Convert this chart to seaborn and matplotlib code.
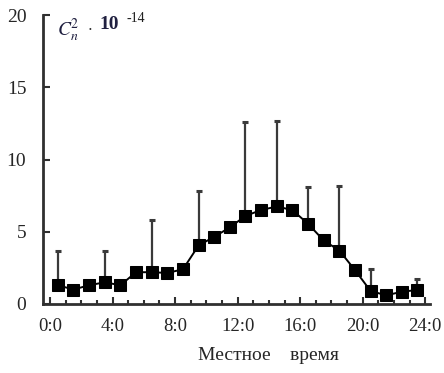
import numpy as np
import pandas as pd
import matplotlib
matplotlib.use("Agg")
import matplotlib.pyplot as plt
import seaborn as sns
from matplotlib.ticker import MultipleLocator, FixedLocator

sns.set_theme(style="white")
plt.rcParams['font.family'] = ['Liberation Serif', 'DejaVu Serif']
plt.rcParams['mathtext.fontset'] = 'stix'

hours = [0.5, 1.5, 2.5, 3.5, 4.5, 5.5, 6.5, 7.5, 8.5, 9.5, 10.5, 11.5,
         12.5, 13.5, 14.5, 15.5, 16.5, 17.5, 18.5, 19.5, 20.5, 21.5, 22.5, 23.5]
cn2 = [1.3, 1.0, 1.3, 1.5, 1.3, 2.2, 2.2, 2.15, 2.4, 4.05, 4.65, 5.3,
       6.1, 6.5, 6.75, 6.5, 5.55, 4.4, 3.7, 2.35, 0.9, 0.6, 0.85, 0.97]
err_hours = [0.5, 3.5, 6.5, 9.5, 12.5, 14.5, 16.5, 18.5, 20.5, 23.5]
err_base = [1.3, 1.5, 2.2, 4.05, 6.1, 6.75, 5.55, 3.7, 0.9, 0.97]
err_top = [3.65, 3.7, 5.8, 7.85, 12.6, 12.65, 8.1, 8.2, 2.4, 1.7]
xtick_vals = [0, 4, 8, 12, 16, 20, 24]
xtick_labels = ["0:0", "4:0", "8:0", "12:0", "16:0", "20:0", "24:0"]
ytick_vals = [0, 5, 10, 15, 20]

df = pd.DataFrame({"hour": hours, "cn2": cn2})

fig = plt.figure(figsize=(4.44, 3.73), dpi=100)
ax = fig.add_axes([43/444, 69/373, (430-43)/444, (304-15)/373])

upper = np.array(err_top) - np.array(err_base)
ax.errorbar(err_hours, err_base, yerr=[np.zeros_like(upper), upper],
            fmt='none', ecolor='#3a3a3a', elinewidth=1.6, capsize=2.5,
            capthick=2.2, zorder=2)

sns.lineplot(data=df, x="hour", y="cn2", ax=ax, color='black', lw=1.4,
             marker='s', markersize=8.5, markerfacecolor='black',
             markeredgecolor='black', zorder=3)

ax.set_xlim(-0.45, 24.3)
ax.set_ylim(0, 20)
ax.xaxis.set_major_locator(FixedLocator(xtick_vals))
ax.xaxis.set_minor_locator(MultipleLocator(1))
ax.set_xticks(xtick_vals)
ax.set_xticklabels(xtick_labels)
ax.set_yticks(ytick_vals)
ax.set_yticklabels([str(v) for v in ytick_vals])

for s in ['top', 'right']:
    ax.spines[s].set_visible(False)
for s in ['left', 'bottom']:
    ax.spines[s].set_linewidth(2.0)
    ax.spines[s].set_color('#303030')

ax.tick_params(axis='x', which='major', direction='in', length=5, width=1.5,
               color='#303030', labelsize=13.5, pad=10, bottom=True)
ax.tick_params(axis='x', which='minor', direction='in', length=3, width=1.5,
               color='#303030', bottom=True)
ax.tick_params(axis='y', which='major', direction='in', length=5, width=1.5,
               color='#303030', labelsize=14, pad=12, left=True)

ax.set_xlabel("Местное    время", fontsize=14)
ax.set_ylabel("")
ax.xaxis.set_label_coords((268-43)/(430-43), -0.15)

ax.text(0.035, 0.995, r"$\mathbf{\mathit{C}}_{n}^{2}$", transform=ax.transAxes,
        fontsize=14, va='top', ha='left', color='#202040')
ax.text(0.113, 0.985, r"$\cdot$", transform=ax.transAxes,
        fontsize=12, va='top', ha='left', color='#303030')
ax.text(0.145, 0.995, "10", transform=ax.transAxes, fontweight='bold',
        fontsize=14, va='top', ha='left', color='#202040')
ax.text(0.215, 1.01, "-14", transform=ax.transAxes,
        fontsize=10, va='top', ha='left', color='#202020')

fig.savefig("out.png", dpi=100)
